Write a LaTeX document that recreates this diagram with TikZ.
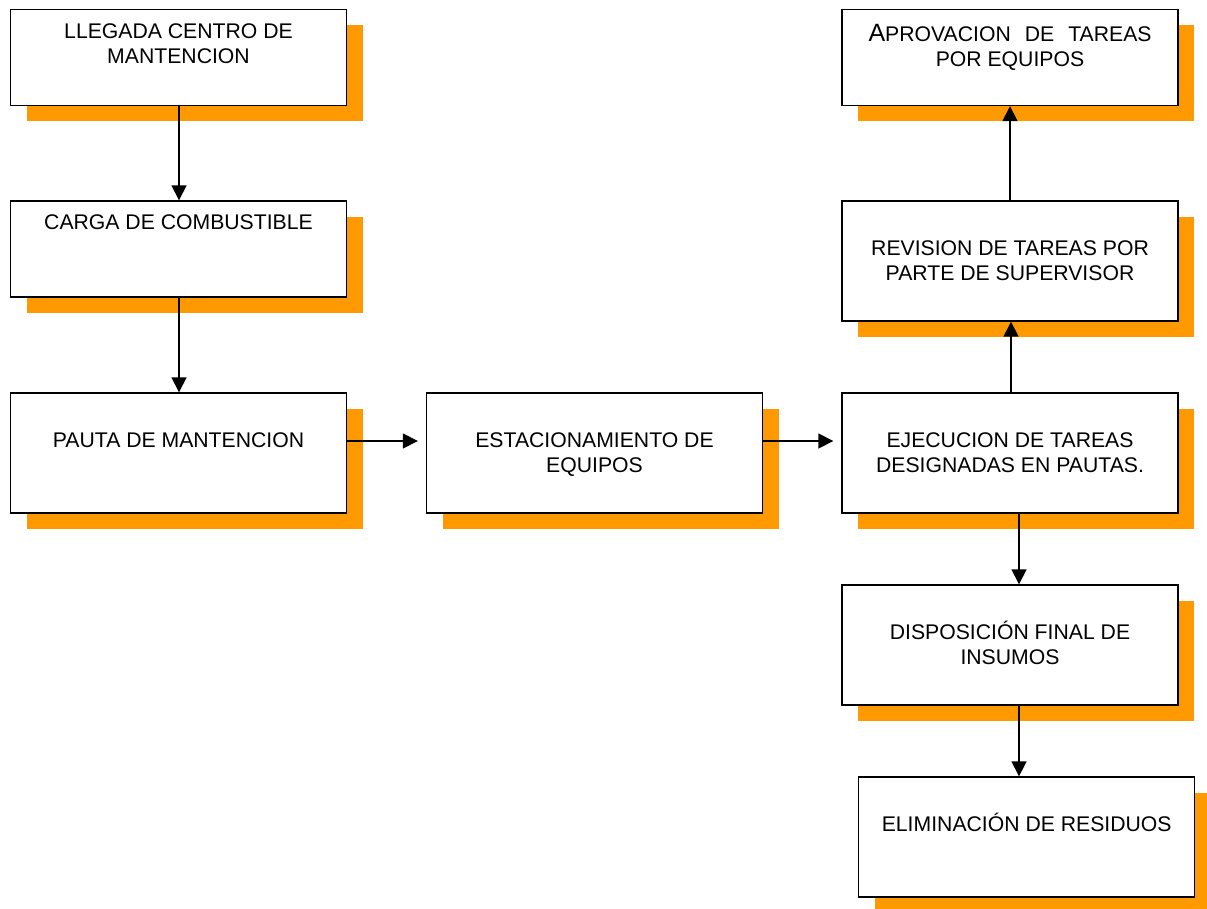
\documentclass[tikz,border=0pt]{standalone}
\usepackage{fontspec}
\setmainfont{Liberation Sans}
\usetikzlibrary{arrows.meta,shadows}
\definecolor{shadeorange}{HTML}{FF9900}
\tikzset{
  stepbox/.style={draw=black, line width=1.4pt, fill=white, rectangle,
    minimum width=336pt, inner sep=0pt,
    drop shadow={shadow xshift=16pt, shadow yshift=-16pt, opacity=1, fill=shadeorange}},
  shortbox/.style={stepbox, minimum height=96pt},
  tallbox/.style={stepbox, minimum height=120pt},
  lbl/.style={anchor=base, inner sep=0pt, align=center,
    font=\fontsize{21.2}{25}\selectfont},
  flow/.style={draw=black, line width=1.6pt, -{Triangle[width=15pt,length=15pt]}}
}
\begin{document}
\begin{tikzpicture}[x=1pt, y=-1pt]
\useasboundingbox (0,0) rectangle (1207,909);

% boxes
\node[shortbox] (b1) at (178.5,57.5) {};
\node[shortbox] (b2) at (178.5,249) {};
\node[tallbox]  (b3) at (178.5,453) {};
\node[tallbox]  (b4) at (594.5,453) {};
\node[tallbox]  (b5) at (1010,453) {};
\node[tallbox]  (b6) at (1010,261) {};
\node[shortbox] (b7) at (1010,57.5) {};
\node[tallbox]  (b8) at (1010,645) {};
\node[tallbox]  (b9) at (1026.7,837) {};

% texts (base anchor sits on the last line)
\node[lbl] (t1) at ([yshift=-54.5pt]b1.north) {LLEGADA CENTRO DE\\MANTENCION};
\node[lbl] (t2) at ([yshift=-29.7pt]b2.north) {CARGA DE COMBUSTIBLE};
\node[lbl] (t3) at ([yshift=-55.3pt]b3.north) {PAUTA DE MANTENCION};
\node[lbl] (t4) at ([yshift=-80pt]b4.north) {ESTACIONAMIENTO DE\\EQUIPOS};
\node[lbl] (t5) at ([yshift=-80pt]b5.north) {EJECUCION DE TAREAS\\DESIGNADAS EN PAUTAS.};
\node[lbl] (t6) at ([yshift=-80pt]b6.north) {REVISION DE TAREAS POR\\PARTE DE SUPERVISOR};
\node[lbl] (t7) at ([yshift=-58pt]b7.north) {{\fontsize{25}{25}\selectfont A}PROVACION\hspace*{14pt}DE\hspace*{14pt}TAREAS\\POR EQUIPOS};
\node[lbl] (t8) at ([yshift=-80pt]b8.north) {DISPOSICIÓN FINAL DE\\INSUMOS};
\node[lbl] (t9) at ([yshift=-55pt]b9.north) {ELIMINACIÓN DE RESIDUOS};

% connectors
\draw[flow] ([xshift=0.5pt]b1.south) -- ([xshift=0.5pt]b2.north);
\draw[flow] ([xshift=0.5pt]b2.south) -- ([xshift=0.5pt]b3.north);
\draw[flow, shorten >=8pt] ([yshift=12pt]b3.east) -- ([yshift=12pt]b4.west);
\draw[flow, shorten >=8pt] ([yshift=12pt]b4.east) -- ([yshift=12pt]b5.west);
\draw[flow] ([xshift=1pt]b5.north) -- ([xshift=1pt]b6.south);
\draw[flow] (b6.north) -- (b7.south);
\draw[flow] ([xshift=9pt]b5.south) -- ([xshift=9pt]b8.north);
\draw[flow] ([xshift=9pt]b8.south) -- ([xshift=9pt]b8.south |- b9.north);
\end{tikzpicture}
\end{document}
